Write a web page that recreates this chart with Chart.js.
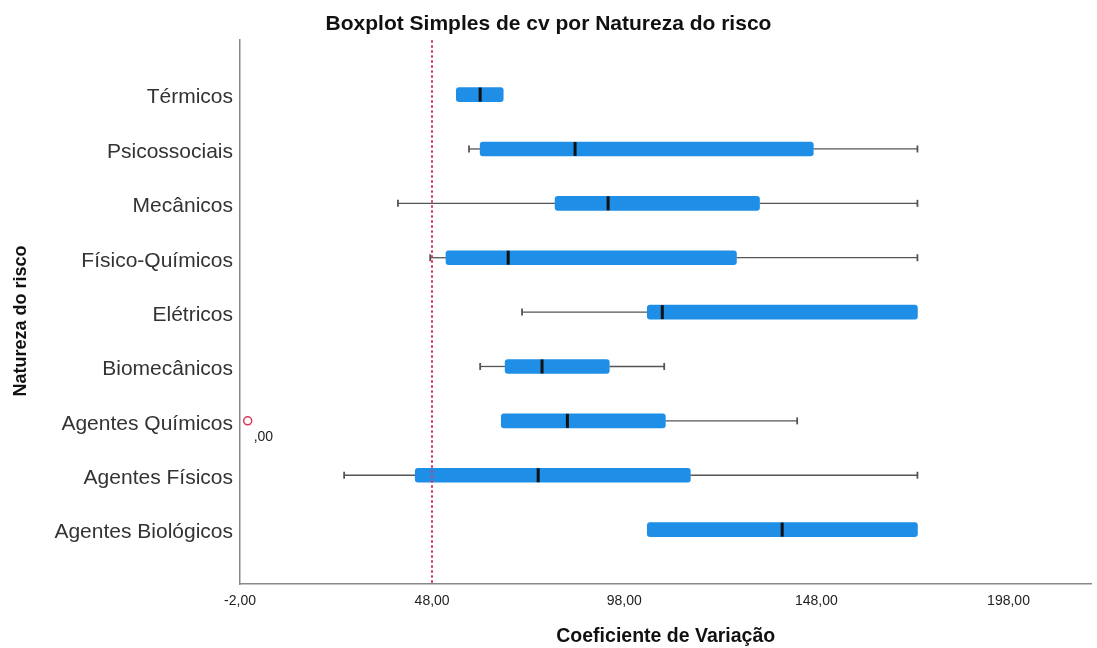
<!DOCTYPE html>
<html>
<head>
<meta charset="utf-8">
<script src="https://cdn.jsdelivr.net/npm/chart.js@4"></script>
<style>
  html, body { margin: 0; padding: 0; background: #fff; }
  #wrap { width: 1097px; height: 648px; }
</style>
</head>
<body>
<div id="wrap"><canvas id="chart"></canvas></div>
<script>
// categorias (de cima para baixo)
const categories = ["Térmicos", "Psicossociais", "Mecânicos", "Físico-Químicos", "Elétricos",
  "Biomecânicos", "Agentes Químicos", "Agentes Físicos", "Agentes Biológicos"];
const whiskerLow = [54.3, 57.6, 39.1, 47.5, 71.4, 60.5, 66.0, 25.1, 104.0];
const q1         = [54.3, 60.5, 80.0, 51.6, 104.0, 67.0, 66.0, 43.6, 104.0];
const medians    = [60.5, 85.2, 93.8, 67.8, 107.9, 76.6, 83.2, 75.6, 139.1];
const q3         = [66.5, 147.2, 133.2, 127.2, 174.3, 94.1, 108.7, 115.2, 174.3];
const whiskerHigh= [66.5, 174.3, 174.3, 174.3, 174.3, 108.4, 143.0, 174.3, 174.3];
const outliers = [{ cat: "Agentes Químicos", value: 0, label: ",00" }];
const xTicks = [-2, 48, 98, 148, 198];
const refLine = 48;

// linhas vazias em cima e em baixo para dar margem
const labels = [""].concat(categories, [""]);
const boxData = [null].concat(categories.map((c, i) => [q1[i], q3[i]]), [null]);

const FONT = "'Liberation Sans', Arial, sans-serif";
const fmt = v => v.toFixed(2).replace(".", ",");

const boxPlugin = {
  id: "boxParts",
  beforeDatasetsDraw(chart) {
    const { ctx, scales: { x, y } } = chart;
    ctx.save();
    ctx.strokeStyle = "#555";
    categories.forEach((c, i) => {
      const py = y.getPixelForValue(i + 1);
      const segs = [[whiskerLow[i], q1[i]], [q3[i], whiskerHigh[i]]];
      segs.forEach(([a, b], k) => {
        if (Math.abs(a - b) < 0.01) return;
        ctx.lineWidth = 1.3;
        ctx.beginPath();
        ctx.moveTo(x.getPixelForValue(a), py);
        ctx.lineTo(x.getPixelForValue(b), py);
        ctx.stroke();
        const cap = x.getPixelForValue(k === 0 ? a : b);
        ctx.lineWidth = 1.8;
        ctx.beginPath();
        ctx.moveTo(cap, py - 3.5);
        ctx.lineTo(cap, py + 3.5);
        ctx.stroke();
      });
    });
    ctx.restore();
  },
  afterDatasetsDraw(chart) {
    const { ctx, chartArea, scales: { x, y } } = chart;
    ctx.save();
    // medianas
    ctx.strokeStyle = "#111";
    ctx.lineWidth = 3;
    categories.forEach((c, i) => {
      const py = y.getPixelForValue(i + 1);
      const px = x.getPixelForValue(medians[i]);
      ctx.beginPath();
      ctx.moveTo(px, py - 7);
      ctx.lineTo(px, py + 7);
      ctx.stroke();
    });
    // linha de referência
    const rx = Math.round(x.getPixelForValue(refLine));
    ctx.strokeStyle = "#d9386a";
    ctx.lineWidth = 2;
    ctx.setLineDash([2.5, 2.5]);
    ctx.beginPath();
    ctx.moveTo(rx, chartArea.top);
    ctx.lineTo(rx, chartArea.bottom);
    ctx.stroke();
    ctx.setLineDash([]);
    // rótulos dos outliers
    ctx.fillStyle = "#222";
    ctx.font = "14px " + FONT;
    ctx.textBaseline = "middle";
    outliers.forEach(o => {
      const px = x.getPixelForValue(o.value);
      const py = y.getPixelForValue(categories.indexOf(o.cat) + 1);
      ctx.fillText(o.label, px + 6, py + 16);
    });
    // título do eixo y (centrado na altura toda)
    ctx.translate(21, chart.height / 2 - 3);
    ctx.rotate(-Math.PI / 2);
    ctx.fillStyle = "#111";
    ctx.font = "bold 18px " + FONT;
    ctx.textAlign = "center";
    ctx.fillText("Natureza do risco", 0, 0);
    ctx.restore();
  }
};

new Chart(document.getElementById("chart"), {
  type: "bar",
  data: {
    labels: labels,
    datasets: [
      {
        data: boxData,
        backgroundColor: "#1e8ee6",
        borderRadius: 3,
        borderSkipped: false,
        barThickness: 14
      },
      {
        type: "scatter",
        data: outliers.map(o => ({ x: o.value, y: o.cat })),
        pointStyle: "circle",
        pointRadius: 4,
        borderColor: "#d9365c",
        backgroundColor: "#fff",
        borderWidth: 1.5
      }
    ]
  },
  options: {
    indexAxis: "y",
    responsive: true,
    maintainAspectRatio: false,
    animation: false,
    layout: { padding: { left: 0, right: 0, top: 0, bottom: 0 } },
    plugins: {
      legend: { display: false },
      tooltip: { enabled: false },
      title: {
        display: true,
        text: "Boxplot Simples de cv por Natureza do risco",
        color: "#111",
        font: { family: FONT, size: 21, weight: "bold" },
        padding: { top: 12, bottom: 3 }
      }
    },
    scales: {
      x: {
        type: "linear",
        min: -2,
        max: 219.6,
        grid: { display: false, drawTicks: false },
        border: { display: true, color: "#888", width: 1.5 },
        afterBuildTicks: s => { s.ticks = xTicks.map(v => ({ value: v })); },
        afterFit: s => { s.height = 64; },
        ticks: {
          color: "#222",
          padding: 9,
          font: { family: FONT, size: 14 },
          callback: v => fmt(v)
        },
        title: {
          display: true,
          text: "Coeficiente de Variação",
          color: "#111",
          font: { family: FONT, size: 19.5, weight: "bold" },
          padding: { top: 0, bottom: 0 }
        }
      },
      y: {
        type: "category",
        offset: false,
        grid: { display: false, drawTicks: false },
        border: { display: true, color: "#888", width: 1.5 },
        afterFit: s => { s.width = 240; },
        ticks: {
          autoSkip: false,
          color: "#333",
          padding: 7,
          labelOffset: 3,
          font: { family: FONT, size: 21 }
        }
      }
    }
  },
  plugins: [boxPlugin]
});
</script>
</body>
</html>
